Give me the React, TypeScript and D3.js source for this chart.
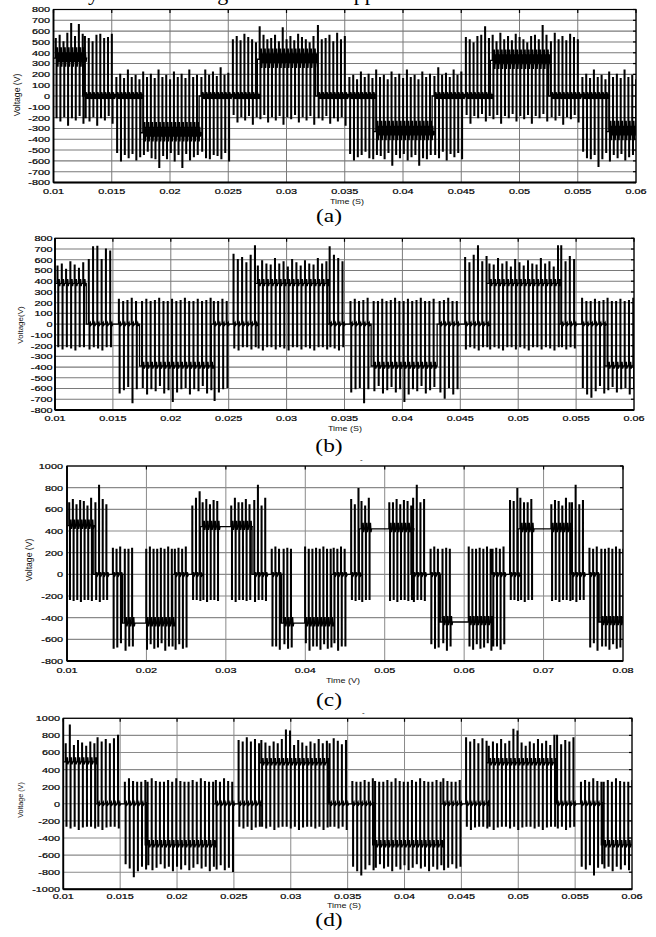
import React from 'react';
import * as d3 from 'd3';

type Region = [number, number, number, number, number]; // t0, t1, base, lo, hi

// ---------- Panel (a) ----------
const aXTicks = [0.01, 0.015, 0.02, 0.025, 0.03, 0.035, 0.04, 0.045, 0.05, 0.055, 0.06];
const aYTicks = [-800, -700, -600, -500, -400, -300, -200, -100, 0, 100, 200, 300, 400, 500, 600, 700, 800];
const aRegions: Region[] = [
  [0.0100, 0.0125, 350, -200, 520],
  [0.0125, 0.0150, 0, -200, 530],
  [0.0152, 0.0175, 0, -540, 170],
  [0.0175, 0.0225, -340, -540, 170],
  [0.0225, 0.0250, 0, -540, 190],
  [0.0252, 0.0275, 0, -190, 520],
  [0.0275, 0.0325, 340, -190, 520],
  [0.0325, 0.0350, 0, -200, 520],
  [0.0352, 0.0375, 0, -540, 170],
  [0.0375, 0.0425, -330, -540, 170],
  [0.0425, 0.0450, 0, -530, 190],
  [0.0452, 0.0475, 0, -180, 520],
  [0.0475, 0.0525, 330, -180, 520],
  [0.0525, 0.0550, 0, -190, 520],
  [0.0552, 0.0575, 0, -540, 170],
  [0.0575, 0.0600, -330, -540, 170],
];
const aPeakVar = [10, 40, -20, 60, 0, 30, -10, 50, 20, 0, -30, 30, 40, 0];
const aOffVar = [0, -30, 10, -70, 0, -20, 20, -50];
const aRing = [100, -80, 55, -35];
const aSpikes: [number, number][] = [
  [0.0115, 670], [0.0123, 660], [0.0277, 640], [0.0296, 630], [0.0326, 650],
  [0.0470, 640], [0.0521, 650], [0.0190, -660], [0.0211, -660], [0.0391, -640],
  [0.0412, -640], [0.0567, -650],
];

// ---------- Panel (b) ----------
const bXTicks = aXTicks;
const bYTicks = aYTicks;
const bRegions: Region[] = [
  [0.0100, 0.0127, 380, -210, 540],
  [0.0127, 0.0150, 0, -210, 600],
  [0.0153, 0.0173, 0, -600, 210],
  [0.0173, 0.0235, -390, -600, 210],
  [0.0235, 0.0250, 0, -600, 210],
  [0.0252, 0.0273, 0, -210, 600],
  [0.0273, 0.0335, 380, -210, 560],
  [0.0335, 0.0350, 0, -210, 600],
  [0.0353, 0.0373, 0, -600, 210],
  [0.0373, 0.0430, -390, -600, 210],
  [0.0430, 0.0450, 0, -600, 210],
  [0.0452, 0.0473, 0, -210, 600],
  [0.0473, 0.0535, 380, -210, 560],
  [0.0535, 0.0550, 0, -210, 600],
  [0.0553, 0.0575, 0, -600, 210],
  [0.0575, 0.0600, -390, -600, 210],
];
const bPeakVar = [0, 20, -30, 40, 10, -20, 30, 0, -10, 50];
const bOffVar = [0, -20, 0, -10, -30, 0];
const bRing = [40, -25];
const bSpikes: [number, number][] = [
  [0.0133, 720], [0.0138, 725], [0.0142, 700], [0.0147, 680], [0.0167, -730],
  [0.0199, -720], [0.0202, -720], [0.0237, -710], [0.0271, 730], [0.0337, 720],
  [0.0365, -730], [0.0399, -720], [0.0402, -720], [0.0437, -690], [0.0465, 730],
  [0.0535, 730], [0.0563, -680],
];

// ---------- Panel (c) ----------
const cXTicks = [0.01, 0.02, 0.03, 0.04, 0.05, 0.06, 0.07, 0.08];
const cYTicks = [-800, -600, -400, -200, 0, 200, 400, 600, 800, 1000];
const cRegions: Region[] = [
  [0.0100, 0.0133, 450, -230, 660],
  [0.0133, 0.0152, 0, -230, 660],
  [0.0155, 0.0170, 0, -660, 230],
  [0.0170, 0.0184, -450, -660, 230],
  [0.0184, 0.0197, -450, -450, -450],
  [0.0197, 0.0233, -450, -660, 230],
  [0.0233, 0.0252, 0, -660, 230],
  [0.0255, 0.0268, 0, -230, 660],
  [0.0268, 0.0289, 440, -230, 660],
  [0.0289, 0.0304, 440, 440, 440],
  [0.0304, 0.0333, 440, -230, 660],
  [0.0333, 0.0352, 0, -230, 660],
  [0.0355, 0.0370, 0, -660, 230],
  [0.0370, 0.0384, -450, -660, 230],
  [0.0384, 0.0397, -450, -450, -450],
  [0.0397, 0.0433, -450, -660, 230],
  [0.0433, 0.0452, 0, -660, 230],
  [0.0455, 0.0468, 0, -230, 660],
  [0.0468, 0.0482, 420, -230, 660],
  [0.0482, 0.0503, 420, 420, 420],
  [0.0503, 0.0533, 420, -230, 660],
  [0.0533, 0.0552, 0, -230, 660],
  [0.0555, 0.0570, 0, -660, 230],
  [0.0570, 0.0586, -440, -660, 230],
  [0.0586, 0.0603, -440, -440, -440],
  [0.0603, 0.0633, -440, -660, 230],
  [0.0633, 0.0652, 0, -660, 230],
  [0.0655, 0.0668, 0, -230, 660],
  [0.0668, 0.0687, 420, -230, 660],
  [0.0687, 0.0707, 420, 420, 420],
  [0.0707, 0.0733, 420, -230, 660],
  [0.0733, 0.0752, 0, -230, 660],
  [0.0755, 0.0770, 0, -660, 230],
  [0.0770, 0.0800, -440, -660, 230],
];
const cPeakVar = [0, 30, -20, 20, 10, -30, 40, 0];
const cOffVar = [0, -10, 0, -20, 0];
const cRing = [55, -30];
const cSpikes: [number, number][] = [
  [0.0140, 820], [0.0265, 760], [0.0340, 820], [0.0465, 790], [0.0540, 820],
  [0.0665, 790], [0.0740, 820], [0.0155, -680], [0.0355, -690], [0.0555, -690],
];

// ---------- Panel (d) ----------
const dXTicks = aXTicks;
const dYTicks = [-1000, -800, -600, -400, -200, 0, 200, 400, 600, 800, 1000];
const dRegions: Region[] = [
  [0.0100, 0.0128, 490, -260, 700],
  [0.0128, 0.0150, 0, -260, 720],
  [0.0152, 0.0172, 0, -730, 250],
  [0.0172, 0.0232, -480, -730, 250],
  [0.0232, 0.0250, 0, -730, 250],
  [0.0252, 0.0272, 0, -260, 720],
  [0.0272, 0.0332, 480, -260, 700],
  [0.0332, 0.0350, 0, -260, 720],
  [0.0352, 0.0372, 0, -730, 250],
  [0.0372, 0.0432, -480, -730, 250],
  [0.0432, 0.0450, 0, -730, 250],
  [0.0452, 0.0472, 0, -260, 720],
  [0.0472, 0.0532, 480, -260, 700],
  [0.0532, 0.0550, 0, -260, 720],
  [0.0553, 0.0573, 0, -730, 250],
  [0.0573, 0.0600, -480, -730, 250],
];
const dPeakVar = [0, 30, -20, 40, 10, -30, 20, 0, 50];
const dOffVar = [0, -20, 0, -40, -10, 0];
const dRing = [55, -30];
const dSpikes: [number, number][] = [
  [0.0107, 920], [0.0149, 800], [0.0161, -850], [0.0248, -790], [0.0295, 860],
  [0.0300, 850], [0.0361, -830], [0.0496, 870], [0.0500, 850], [0.0532, 800],
  [0.0566, -830],
];

// ---------- layout ----------
interface PanelCfg {
  left: number; right: number; top: number; bottom: number;
  xTicks: number[]; yTicks: number[];
  regions: Region[]; carrier: number;
  peakVar: number[]; offVar: number[]; ring: number[]; spikes: [number, number][];
  xLabelY: number; yLabelGap: number;
  timeLabel: string; timeX: number; timeY: number;
  yLabel: string; yLabelX: number; yLabelY: number; yLabelSize: number;
  caption: string; capY: number;
  gridColor: string;
}

const panels: PanelCfg[] = [
  {
    left: 53.5, right: 636, top: 9.5, bottom: 182.5,
    xTicks: aXTicks, yTicks: aYTicks, regions: aRegions, carrier: 0.00033,
    peakVar: aPeakVar, offVar: aOffVar, ring: aRing, spikes: aSpikes,
    xLabelY: 194, yLabelGap: 3.5,
    timeLabel: 'Time (S)', timeX: 347, timeY: 203.5,
    yLabel: 'Voltage (V)', yLabelX: 17, yLabelY: 95, yLabelSize: 8.6,
    caption: '(a)', capY: 222, gridColor: '#7a7a7a',
  },
  {
    left: 55, right: 634, top: 238.3, bottom: 410,
    xTicks: bXTicks, yTicks: bYTicks, regions: bRegions, carrier: 0.00037,
    peakVar: bPeakVar, offVar: bOffVar, ring: bRing, spikes: bSpikes,
    xLabelY: 421, yLabelGap: 2.5,
    timeLabel: 'Time (S)', timeX: 345, timeY: 430.5,
    yLabel: 'Voltage(V)', yLabelX: 20.5, yLabelY: 325, yLabelSize: 8,
    caption: '(b)', capY: 452, gridColor: '#7a7a7a',
  },
  {
    left: 67, right: 623, top: 466, bottom: 661,
    xTicks: cXTicks, yTicks: cYTicks, regions: cRegions, carrier: 0.00046,
    peakVar: cPeakVar, offVar: cOffVar, ring: cRing, spikes: cSpikes,
    xLabelY: 673, yLabelGap: 4,
    timeLabel: 'Time (V)', timeX: 343, timeY: 682.5,
    yLabel: 'Voltage (V)', yLabelX: 29, yLabelY: 560, yLabelSize: 8.6,
    caption: '(c)', capY: 706, gridColor: '#8a8a8a',
  },
  {
    left: 63.3, right: 632, top: 718.3, bottom: 889.3,
    xTicks: dXTicks, yTicks: dYTicks, regions: dRegions, carrier: 0.00036,
    peakVar: dPeakVar, offVar: dOffVar, ring: dRing, spikes: dSpikes,
    xLabelY: 899, yLabelGap: 3.3,
    timeLabel: 'Time (S)', timeX: 344, timeY: 907.5,
    yLabel: 'Voltage (V)', yLabelX: 20, yLabelY: 800, yLabelSize: 7.2,
    caption: '(d)', capY: 925.5, gridColor: '#8a8a8a',
  },
];

function buildWave(p: PanelCfg, pxPerSec: number): [number, number][] {
  const pts: [number, number][] = [];
  const e = 0.75 / pxPerSec;
  const r = 0.55 / pxPerSec;
  let idx = 0;
  for (const [t0, t1, b, lo, hi] of p.regions) {
    pts.push([t0, b]);
    if (hi > lo) {
      const pos = hi > -lo;
      const amp = b === 0 ? 0.35 : 1;
      for (let t = t0 + p.carrier * 0.5; t < t1; t += p.carrier) {
        const pv = p.peakVar[idx % p.peakVar.length];
        const ov = p.offVar[idx % p.offVar.length];
        idx++;
        let top = pos ? hi + pv : hi - ov;
        let bot = pos ? lo + ov : lo - pv;
        for (const [st, sv] of p.spikes) {
          if (Math.abs(st - t) < p.carrier / 2) {
            if (sv > 0) top = sv; else bot = sv;
          }
        }
        pts.push([t, b], [t, top], [t + e, top], [t + e, bot], [t + 2 * e, bot], [t + 2 * e, b]);
        let tt = t + 2 * e + r;
        for (const rv of p.ring) {
          pts.push([tt, b + rv * amp]);
          tt += r;
        }
        pts.push([tt, b]);
      }
    }
    pts.push([t1, b]);
  }
  return pts;
}

const SANS = "'Liberation Sans', Arial, Helvetica, sans-serif";
const SERIF = "'Liberation Serif', 'Times New Roman', Times, serif";

function Panel({ p, id }: { p: PanelCfg; id: string }) {
  const xDom: [number, number] = [p.xTicks[0], p.xTicks[p.xTicks.length - 1]];
  const yDom: [number, number] = [p.yTicks[0], p.yTicks[p.yTicks.length - 1]];
  const x = d3.scaleLinear().domain(xDom).range([p.left, p.right]);
  const y = d3.scaleLinear().domain(yDom).range([p.bottom, p.top]);
  const pxPerSec = (p.right - p.left) / (xDom[1] - xDom[0]);
  const pts = buildWave(p, pxPerSec);
  const line = d3.line<[number, number]>().x((d) => x(d[0])).y((d) => y(d[1]));
  const clipId = `clip-${id}`;
  return (
    <g>
      <defs>
        <clipPath id={clipId}>
          <rect x={p.left} y={p.top} width={p.right - p.left} height={p.bottom - p.top} />
        </clipPath>
      </defs>
      {p.yTicks.map((v) => (
        <line key={`gy${v}`} x1={p.left} x2={p.right} y1={y(v)} y2={y(v)} stroke={p.gridColor} strokeWidth={1.1} />
      ))}
      {p.xTicks.map((v) => (
        <line key={`gx${v}`} x1={x(v)} x2={x(v)} y1={p.top} y2={p.bottom} stroke={p.gridColor} strokeWidth={1} />
      ))}
      <path d={line(pts) || ''} fill="none" stroke="#000" strokeWidth={1.3} clipPath={`url(#${clipId})`} strokeLinejoin="miter" />
      <rect x={p.left} y={p.top} width={p.right - p.left} height={p.bottom - p.top} fill="none" stroke="#000" strokeWidth={1.2} />
      <line x1={p.left} x2={p.right} y1={p.bottom} y2={p.bottom} stroke="#000" strokeWidth={2} />
      <line x1={p.left} x2={p.left} y1={p.top} y2={p.bottom} stroke="#000" strokeWidth={1.8} />
      {p.xTicks.map((v) => (
        <line key={`tt${v}`} x1={x(v)} x2={x(v)} y1={p.top} y2={p.top + 3.5} stroke="#000" strokeWidth={1.2} />
      ))}
      {p.yTicks.map((v) => (
        <line key={`tr${v}`} x1={p.right} x2={p.right - 3} y1={y(v)} y2={y(v)} stroke="#000" strokeWidth={1.2} />
      ))}
      {p.xTicks.map((v) => (
        <text key={`lx${v}`} transform={`translate(${x(v)},${p.xLabelY}) scale(1.36,1)`} textAnchor="middle"
          fontFamily={SANS} fontSize={8} fill="#000" stroke="#000" strokeWidth={0.2}>{String(v)}</text>
      ))}
      {p.yTicks.map((v) => (
        <text key={`ly${v}`} transform={`translate(${p.left - p.yLabelGap},${y(v) + 2.9}) scale(1.36,1)`} textAnchor="end"
          fontFamily={SANS} fontSize={8} fill="#000" stroke="#000" strokeWidth={0.2}>{String(v)}</text>
      ))}
      <text transform={`translate(${p.timeX},${p.timeY}) scale(1.2,1)`} textAnchor="middle" fontFamily={SANS} fontSize={7.5} fill="#111">
        {p.timeLabel}
      </text>
      <text transform={`translate(${p.yLabelX + p.yLabelSize * 0.35},${p.yLabelY}) rotate(-90)`} textAnchor="middle"
        fontFamily={SANS} fontSize={p.yLabelSize} fill="#111">{p.yLabel}</text>
      <text transform={`translate(329,${p.capY}) scale(1.3,1)`} textAnchor="middle" fontFamily={SERIF} fontSize={18} fill="#000">
        {p.caption}
      </text>
    </g>
  );
}

export default function App() {
  return (
    <div style={{ position: 'absolute', left: 0, top: 0, width: 656, height: 937, background: '#fff' }}>
      <svg width={656} height={937} viewBox="0 0 656 937" xmlns="http://www.w3.org/2000/svg">
        <rect x={0} y={0} width={656} height={937} fill="#fff" />
        <defs>
          <clipPath id="clip-sub">
            <rect x={300} y={229.5} width={120} height={8} />
          </clipPath>
        </defs>
        <g fontFamily={SERIF} fontSize={22} fill="#000">
          <text x={99} y={-0.5} textAnchor="end">obtained by</text>
          <text x={238} y={-0.5} textAnchor="end">the voltage</text>
          <text x={344} y={-0.5}>approach</text>
        </g>
        <text transform="translate(314,233) scale(1.5,1)" fontFamily={SANS} fontSize={7} fill="#444" clipPath="url(#clip-sub)">
          Line Voltage
        </text>
        {panels.map((p, i) => (
          <Panel key={i} p={p} id={`p${i}`} />
        ))}
        <text x={360} y={462} fontFamily={SANS} fontSize={8} fill="#222">-</text>
        <text x={362} y={715} fontFamily={SANS} fontSize={8} fill="#222">-</text>
      </svg>
    </div>
  );
}
